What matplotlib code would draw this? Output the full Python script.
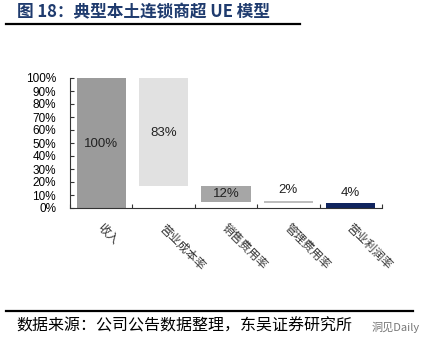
import matplotlib.pyplot as plt
from matplotlib.lines import Line2D

plt.rcParams['font.family'] = ['Noto Sans CJK SC', 'DejaVu Sans']

# data
categories = ['收入', '营业成本率', '销售费用率', '管理费用率', '营业利润率']
labels = ['100%', '83%', '12%', '2%', '4%']
bottoms = [0, 17, 5, 3.6, 0]
heights = [100, 83, 12, 1.5, 3.6]
label_y = [49, 58, 11, 14, 11.5]
colors = ['#9b9b9b', '#e1e1e1', '#a6a6a6', '#bdbdbd', '#10245e']
yticks = list(range(0, 101, 10))

fig = plt.figure(figsize=(4.28, 3.47), dpi=100)
ax = fig.add_axes([70 / 428, 139 / 347, 312 / 428, 130 / 347])

x = list(range(len(categories)))
ax.bar(x, heights, bottom=bottoms, width=0.79, color=colors, edgecolor='none')
for xi, t, yy in zip(x, labels, label_y):
    ax.text(xi, yy, t, ha='center', va='center', fontsize=9.5, color='#222222',
            family=['Liberation Sans'])

ax.set_xlim(-0.5, 4.5)
ax.set_ylim(0, 100)
ax.set_yticks(yticks)
ax.set_yticklabels([f'{v}%' for v in yticks], family=['Liberation Sans'], fontsize=8.5)
ax.set_xticks([i - 0.5 for i in range(len(categories) + 1)])
ax.set_xticklabels([])
ax.tick_params(axis='y', direction='in', length=3, pad=10, color='#333333')
ax.tick_params(axis='x', direction='in', length=3, color='#333333')
for s in ['top', 'right']:
    ax.spines[s].set_visible(False)
for s in ['left', 'bottom']:
    ax.spines[s].set_color('#333333')
    ax.spines[s].set_linewidth(0.8)

for xi, c in zip(x, categories):
    ax.text(xi - 0.03, -14, c, rotation=-45, rotation_mode='anchor', ha='left', va='center',
            fontsize=8.5, color='#333333')

fig.text(17 / 428, 1 - 12 / 347, '图 18：典型本土连锁商超 UE 模型', fontsize=12,
         fontweight='bold', color='#1f3b6e', ha='left', va='center')
fig.add_artist(Line2D([6 / 428, 300 / 428], [1 - 24 / 347] * 2, color='black', lw=1.6,
                      transform=fig.transFigure))
fig.add_artist(Line2D([6 / 428, 413 / 428], [1 - 311 / 347] * 2, color='black', lw=1.6,
                      transform=fig.transFigure))
fig.text(16 / 428, 1 - 326 / 347, '数据来源：公司公告数据整理，东吴证券研究所', fontsize=11.5,
         color='black', ha='left', va='center')
fig.text(372 / 428, 1 - 327 / 347, '洞见Daily', fontsize=8, color='#777777',
         ha='left', va='center')

fig.savefig('out.png', dpi=100)
